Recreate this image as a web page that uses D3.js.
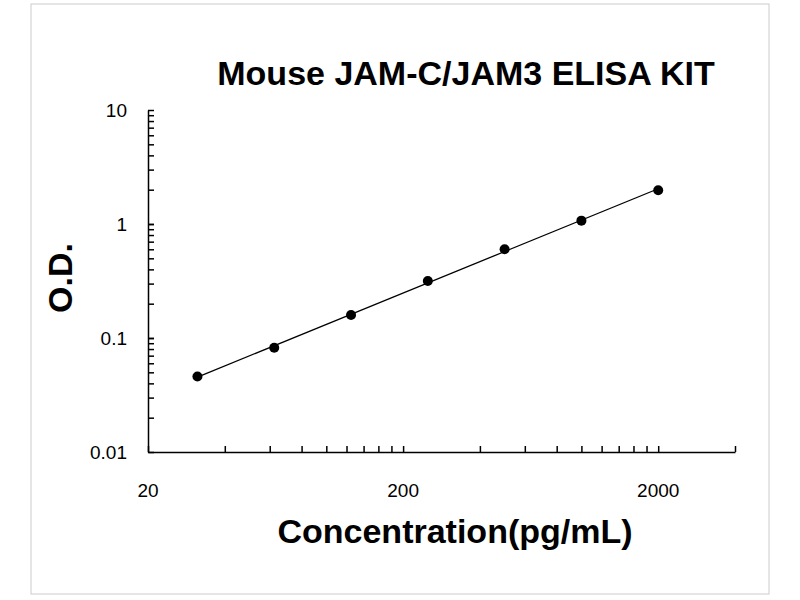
<!DOCTYPE html>
<html><head><meta charset="utf-8">
<script src="https://cdn.jsdelivr.net/npm/d3@7"></script>
<style>body{margin:0;background:#fff}</style>
</head><body>
<div id="chart"></div>
<script>
const conc = [31.25, 62.5, 125, 250, 500, 1000, 2000];
const od = [0.046, 0.082, 0.159, 0.316, 0.60, 1.07, 1.98];
const xTickLabels = [20, 200, 2000];
const yTickLabels = [0.01, 0.1, 1, 10];

const width = 800, height = 600;
const svg = d3.select("#chart").append("svg").attr("width", width).attr("height", height);

svg.append("rect").attr("x", 31).attr("y", 4).attr("width", 738).attr("height", 590)
    .attr("fill", "none").attr("stroke", "#ccc");

const x = d3.scaleLog().domain([20, 4000]).range([148, 735]);
const y = d3.scaleLog().domain([0.01, 10]).range([452, 110]);

// minor ticks
const xMinor = [];
[20, 200, 2000].forEach(b => { for (let k = 1; k <= 9; k++) { const v = b * k; if (v <= 4000) xMinor.push(v); } });
const yMinor = [];
[0.01, 0.1, 1].forEach(b => { for (let k = 1; k <= 10; k++) yMinor.push(b * k); });

svg.append("g").attr("transform", `translate(0,452)`)
    .call(d3.axisTop(x).tickValues(xMinor).tickSize(6).tickFormat("").tickSizeOuter(0))
    .call(g => g.select(".domain").attr("stroke-width", 1.5))
    .call(g => g.selectAll("line").attr("stroke-width", 1.5));
svg.append("g").attr("transform", `translate(148,0)`)
    .call(d3.axisRight(y).tickValues(yMinor).tickSize(6).tickFormat("").tickSizeOuter(0))
    .call(g => g.select(".domain").attr("stroke-width", 1.5))
    .call(g => g.selectAll("line").attr("stroke-width", 1.5));

const font = "Liberation Sans, Arial, sans-serif";
svg.selectAll(".xl").data(xTickLabels).enter().append("text")
    .attr("x", d => x(d)).attr("y", 497).attr("text-anchor", "middle")
    .attr("font-family", font).attr("font-size", 19).text(d => d);
svg.selectAll(".yl").data(yTickLabels).enter().append("text")
    .attr("x", 127).attr("y", d => y(d) + 7).attr("text-anchor", "end")
    .attr("font-family", font).attr("font-size", 19).text(d => d);

// fitted line in log-log
const lx = conc.map(Math.log10), ly = od.map(Math.log10);
const mx = d3.mean(lx), my = d3.mean(ly);
const slope = d3.sum(lx, (v, i) => (v - mx) * (ly[i] - my)) / d3.sum(lx, v => (v - mx) ** 2);
const fit = c => 10 ** (my + slope * (Math.log10(c) - mx));
const ends = [conc[0], conc[conc.length - 1]];
svg.append("line")
    .attr("x1", x(ends[0])).attr("y1", y(fit(ends[0])))
    .attr("x2", x(ends[1])).attr("y2", y(fit(ends[1])))
    .attr("stroke", "#000").attr("stroke-width", 1.3);

svg.selectAll(".dot").data(conc).enter().append("circle")
    .attr("cx", d => x(d)).attr("cy", (d, i) => y(od[i])).attr("r", 5).attr("fill", "#000");

svg.append("text").attr("x", 466).attr("y", 85).attr("text-anchor", "middle")
    .attr("font-family", font).attr("font-weight", "bold").attr("font-size", 34)
    .text("Mouse JAM-C/JAM3 ELISA KIT");
svg.append("text").attr("x", 455).attr("y", 543).attr("text-anchor", "middle")
    .attr("font-family", font).attr("font-weight", "bold").attr("font-size", 34)
    .text("Concentration(pg/mL)");
svg.append("text").attr("transform", "translate(72,278) rotate(-90)").attr("text-anchor", "middle")
    .attr("font-family", font).attr("font-weight", "bold").attr("font-size", 34)
    .text("O.D.");
</script>
</body></html>
